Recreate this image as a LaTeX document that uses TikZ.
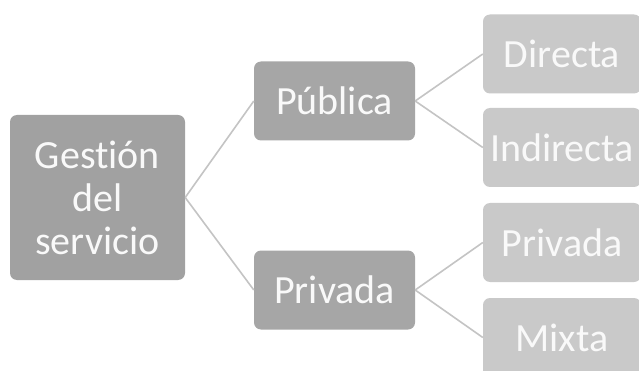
\documentclass[tikz,border=0pt]{standalone}
\usepackage{fontspec}
\setmainfont[RawFeature={-liga}]{Carlito}
\begin{document}
\begin{tikzpicture}[x=1pt,y=-1pt,
  box/.style={rectangle,rounded corners=7pt,inner sep=0pt,text=white!95!gray,
    font=\fontsize{40}{43}\selectfont,align=center},
  rootbox/.style={box,fill=black!37,minimum width=175pt,minimum height=165pt},
  midbox/.style={box,fill=black!35,minimum width=161pt,minimum height=79pt},
  leafbox/.style={box,fill=black!21,minimum width=158pt,minimum height=79pt},
  link/.style={draw=black!23,line width=1.6pt}]
\useasboundingbox (0,0) rectangle (639,371);
\clip (0,0) rectangle (639,371);
\fill[white] (0,0) rectangle (639,371);
\node[rootbox] (root) at (97.5,197.5) {Gestión\\del\\servicio};
\node[midbox] (pub) at (334.5,101) {Pública};
\node[midbox] (priv) at (334.5,290) {Privada};
\node[leafbox] (dir) at (562,54) {Directa};
\node[leafbox] (ind) at (562,147.5) {Indirecta};
\node[leafbox] (privr) at (562,242.5) {Privada};
\node[leafbox] (mix) at (562,337.5) {Mixta};
\draw[link] (root.east) -- (pub.west);
\draw[link] (root.east) -- (priv.west);
\draw[link] (pub.east) -- (dir.west);
\draw[link] (pub.east) -- (ind.west);
\draw[link] (priv.east) -- (privr.west);
\draw[link] (priv.east) -- (mix.west);
\end{tikzpicture}
\end{document}
